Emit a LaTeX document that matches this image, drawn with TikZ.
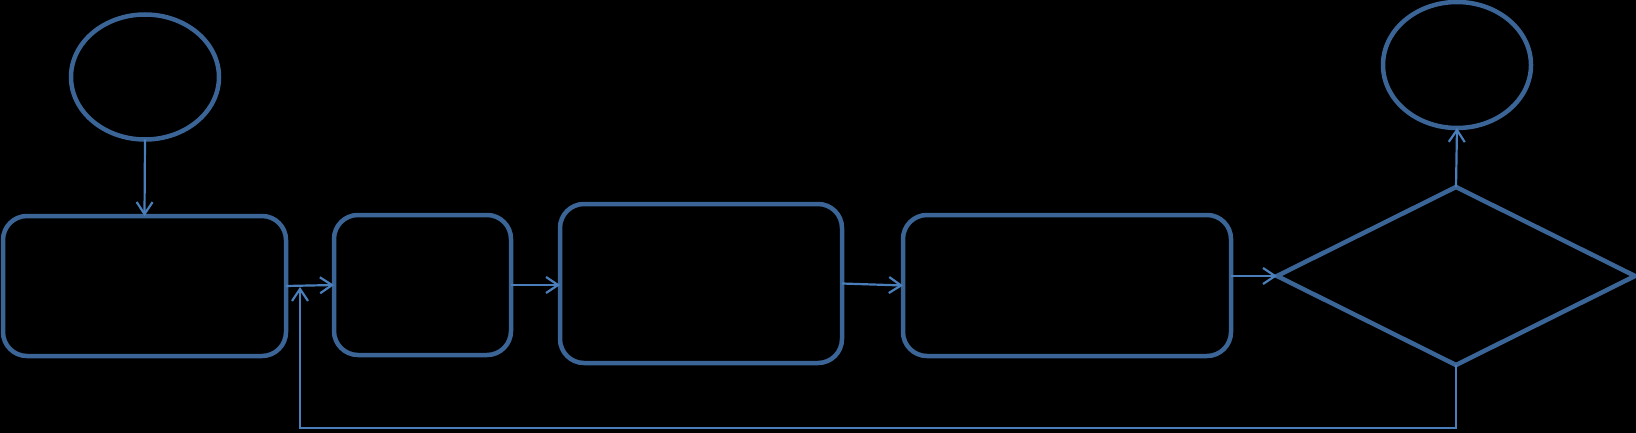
\documentclass[tikz,border=0pt]{standalone}
\usetikzlibrary{shapes.geometric,arrows.meta,calc}
\definecolor{shapeblue}{HTML}{3A6596}
\definecolor{linkblue}{HTML}{4A7EBB}
\begin{document}
\begin{tikzpicture}[x=1pt,y=-1pt,
  shapeline/.style={draw=shapeblue,line width=4.5pt,inner sep=0pt,outer sep=0pt},
  procbox/.style={shapeline,rectangle,rounded corners=24pt},
  termin/.style={shapeline,ellipse},
  decide/.style={shapeline,diamond},
  link/.style={draw=linkblue,line width=2.2pt,-{Straight Barb[length=12pt,width=16pt,line width=2.2pt]}}]
\fill[black] (0,0) rectangle (1636,433);
\useasboundingbox (0,0) rectangle (1636,433);
\node[termin,minimum width=148pt,minimum height=125pt] (e1) at (145,77) {};
\node[termin,minimum width=148pt,minimum height=126pt] (e2) at (1457,65) {};
\node[procbox,minimum width=283pt,minimum height=140pt] (b1) at (144.5,286) {};
\node[procbox,minimum width=177pt,minimum height=140pt] (b2) at (422.5,285) {};
\node[procbox,minimum width=282pt,minimum height=159pt] (b3) at (701,283.5) {};
\node[procbox,minimum width=328pt,minimum height=141pt] (b4) at (1067,285.5) {};
\node[decide,minimum width=358pt,minimum height=178pt] (d) at (1456,276) {};
\coordinate (fb) at (300,287);
\draw[link] (e1.south) -- (b1.north);
\draw[link] (b1.east) -- (b2.west);
\draw[link] (b2.east) -- (b2.east -| b3.west);
\draw[link] (b3.east) -- (b4.west);
\draw[link] (b4.east |- d.west) -- (d.west);
\draw[link] (d.north) -- (e2.south);
\draw[link] (d.south) -- ++(0,63) -| (fb);
\end{tikzpicture}
\end{document}
